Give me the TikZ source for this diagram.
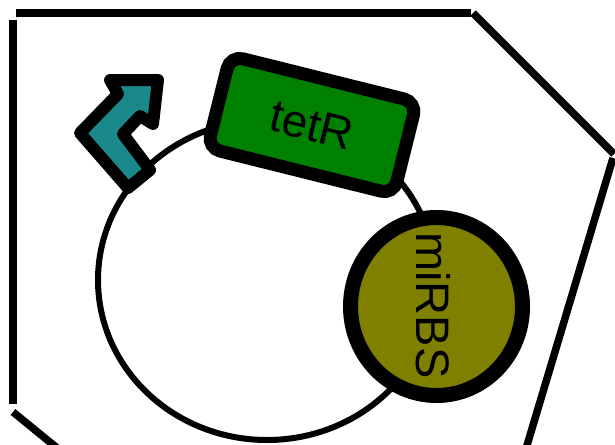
\documentclass[tikz,border=0pt]{standalone}
\usepackage{fontspec}
\setmainfont{Liberation Sans}
\usetikzlibrary{shapes.geometric}
\definecolor{cdsgreen}{RGB}{0,128,0}
\definecolor{rbsolive}{RGB}{128,128,0}
\definecolor{promteal}{RGB}{26,137,137}
\tikzset{
  framestyle/.style={line width=7.5pt},
  plasmidstyle/.style={draw, ellipse, line width=6pt, inner sep=0pt},
  cdsbox/.style={draw, fill=cdsgreen, rectangle, rounded corners=13pt, line width=13pt, inner sep=0pt,
    minimum width=192pt, minimum height=95pt, font=\fontsize{46}{52}\selectfont},
  rbsbox/.style={draw, fill=rbsolive, ellipse, line width=15pt, inner sep=0pt,
    minimum width=172pt, minimum height=178pt},
  rbslabel/.style={rotate=-90, font=\fontsize{47}{54}\selectfont, inner sep=0pt},
  promstyle/.style={draw, fill=promteal, line width=12pt, line join=round}
}
\begin{document}
\begin{tikzpicture}[x=1pt,y=-1pt]
\useasboundingbox (0,0) rectangle (615,444);
% frame
\draw[framestyle] (16,13) -- (471,13);
\draw[framestyle] (473,13) -- (614,154);
\draw[framestyle] (613,158) -- (525,452);
\draw[framestyle] (13,20) -- (13,404);
\draw[framestyle] (13,412) -- (62,452);
% plasmid backbone
\node[plasmidstyle, minimum width=338pt, minimum height=320pt] (plasmid) at (267,280) {};
% promoter
\draw[promstyle] (128,188) -- (80,133) -- (118,94) -- (110,80) -- (158,80) -- (153,124)
  -- (140,116) -- (123,134) -- (150,170) -- cycle;
% CDS
\node[cdsbox, rotate=-14] (tetR) at (312,125) {tetR};
% RBS
\node[rbsbox] (miRBS) at (436.5,306.5) {};
\node[rbslabel] (miRBSlabel) at (433.5,305.5) {miRBS};
\end{tikzpicture}
\end{document}
